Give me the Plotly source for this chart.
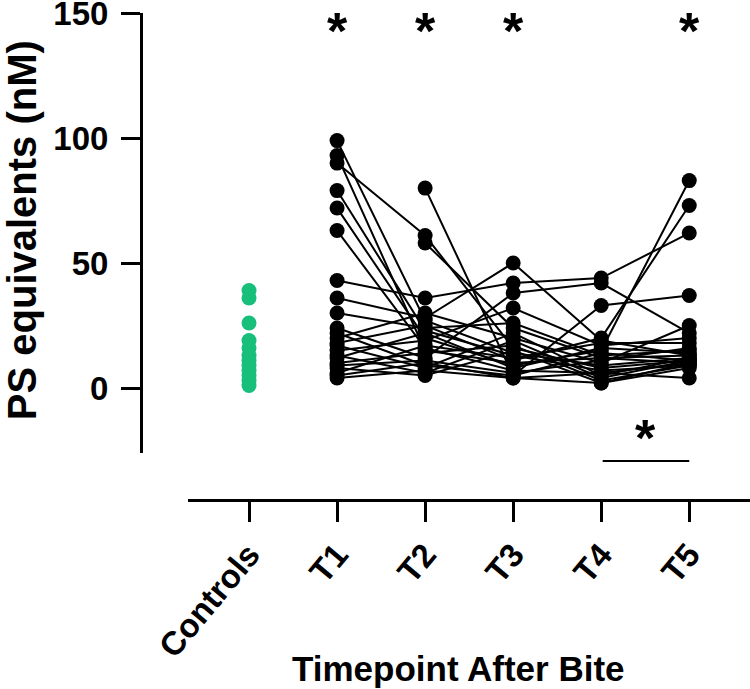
import plotly.graph_objects as go

categories = ["Controls", "T1", "T2", "T3", "T4", "T5"]

controls = [39, 36, 26, 19, 16, 13, 11, 9, 7, 5, 3, 1]

# paired subjects: values at T1..T5 (None = missing)
t1 = [99, 93, 90, 79, 72, 63, 43, 36, 30, 24, 22, 20, 18, 17, 15, 13, 12, 10, 9, 8, 6, 5, 4, None, None]
t2 = [27, 15, 61, 23, 20, 16, 36, 28, 24, 12, 9, 30, 25, 8, 19, 6, 22, 14, 11, 5, 17, 10, 7, 80, 58]
t3 = [14, 10, 16, 13, 9, 7, 42, 50, 26, 38, 5, 20, 11, 22, 32, 19, 8, 17, 6, 15, 12, 4, 4, 5, 24]
t4 = [9, 12, 8, 7, 15, 6, 44, 19, 13, 42, 33, 10, 20, 5, 17, 4, 16, 3, 11, 2, 18, 6, 2, 14, 12]
t5 = [12, 10, 11, 9, 83, 10, 62, 13, 15, 22, 37, 25, 73, 12, 20, 11, 14, 9, 16, 8, 18, 4, 10, 11, 13]

sig_top = ["T1", "T2", "T3", "T5"]
sig_pair = ["T4", "T5"]

FONT = "Liberation Sans"

timepoints = categories[1:]
series = [t1, t2, t3, t4, t5]

# build line segments per subject
lx, ly = [], []
px, py = [], []
for i in range(len(t1)):
    for tp, s in zip(timepoints, series):
        lx.append(tp)
        ly.append(s[i])
        if s[i] is not None:
            px.append(tp)
            py.append(s[i])
    lx.append(None)
    ly.append(None)

fig = go.Figure()
fig.add_trace(go.Scatter(x=lx, y=ly, mode="lines", line=dict(color="black", width=2),
                         connectgaps=False, showlegend=False, hoverinfo="skip"))
fig.add_trace(go.Scatter(x=px, y=py, mode="markers",
                         marker=dict(color="black", size=15, line=dict(width=0)),
                         showlegend=False, cliponaxis=False))
fig.add_trace(go.Scatter(x=["Controls"] * len(controls), y=controls, mode="markers",
                         marker=dict(color="#17BF7A", size=15, line=dict(width=0)),
                         showlegend=False, cliponaxis=False))

star_font = dict(family=FONT, size=52, color="black", weight="bold")
annotations = []
for c in sig_top:
    annotations.append(dict(x=categories.index(c), y=1.0267, xref="x", yref="paper", text="*",
                            showarrow=False, font=star_font,
                            xanchor="center", yanchor="top"))
i4, i5 = categories.index(sig_pair[0]), categories.index(sig_pair[1])
annotations.append(dict(x=(i4 + i5) / 2, y=-20.0, xref="x", yref="y", text="*",
                        showarrow=False, font=star_font,
                        xanchor="center", yanchor="middle"))
annotations.append(dict(x=i5, y=0.0801, xref="x", yref="paper", ax=i4, ay=0, axref="x", ayref="pixel",
                        text="", showarrow=True, arrowhead=0, arrowwidth=2, arrowcolor="black",
                        standoff=0, startstandoff=0))
annotations.append(dict(x=-0.1954, y=0.554, xref="paper", yref="paper", text="PS equivalents (nM)",
                        textangle=-90, showarrow=False, xanchor="center", yanchor="middle",
                        font=dict(family=FONT, size=40, color="black", weight="bold")))
annotations.append(dict(x=0.522, y=-0.347, xref="paper", yref="paper", text="Timepoint After Bite",
                        showarrow=False, xanchor="center", yanchor="middle",
                        font=dict(family=FONT, size=35, color="black", weight="bold")))

fig.update_layout(
    width=750, height=689,
    margin=dict(l=141, r=0, t=13, b=189, autoexpand=False),
    plot_bgcolor="white", paper_bgcolor="white",
    annotations=annotations,
    xaxis=dict(type="category", categoryorder="array", categoryarray=categories,
               domain=[0.0772, 1], range=[-0.693, 5.69], anchor="free", position=0,
               showline=True, linecolor="black", linewidth=3, automargin=False,
               ticks="outside", ticklen=20, tickwidth=3, tickcolor="black",
               tickangle=-50, showgrid=False, zeroline=False, ticklabeloverflow="allow",
               tickfont=dict(family=FONT, size=33, color="black", weight="bold")),
    yaxis=dict(domain=[0.0965, 1], range=[-26, 150.05], anchor="free", position=0,
               tickvals=[0, 50, 100, 150], automargin=False, ticklabeloverflow="allow",
               showline=True, linecolor="black", linewidth=3,
               ticks="outside", ticklen=19, tickwidth=3, tickcolor="black",
               showgrid=False, zeroline=False, ticklabelstandoff=6,
               tickfont=dict(family=FONT, size=33, color="black", weight="bold")),
)

fig.write_html("out.html", config={"displayModeBar": False},
               post_script="document.body.style.margin='0';document.body.style.overflow='hidden';")
